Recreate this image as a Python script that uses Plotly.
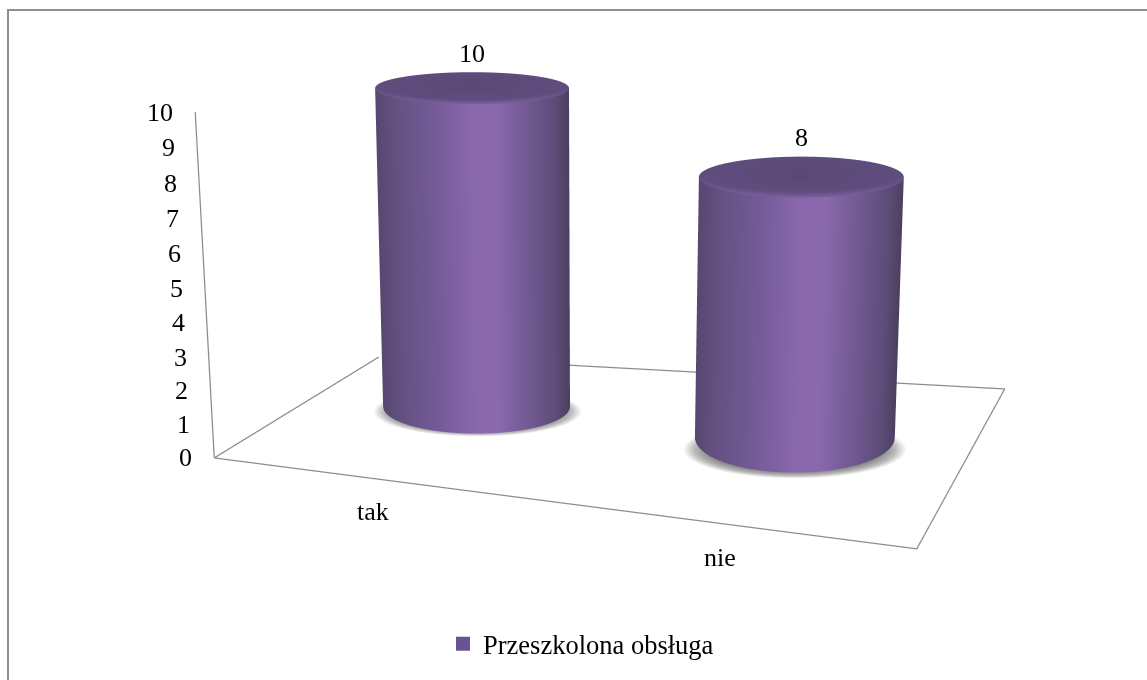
import numpy as np
import plotly.graph_objects as go

categories = ["tak", "nie"]
values = [10, 8]
z_ticks = list(range(0, 11))
series_name = "Przeszkolona obsługa"

W, H = 1147, 680
FONT = "Liberation Serif"

# --- orthographic view geometry ---
ALPHA = np.radians(17.0)
DIST = 2.0
ORTHO_CAL = 0.829                         # measured scale of the orthographic camera
K = ORTHO_CAL * 340 / (DIST * np.tan(np.pi / 8))
SX = 326.0                                # screen px per category step
SY = SX * np.sin(ALPHA)                   # screen px per depth unit
SZ = 32.0                                 # screen px per value unit
X0, V0 = 474.0, 407.0                     # screen place of category 0 on the floor, depth 0
XR = ((573.5 - X0) / SX - 1.7, (573.5 - X0) / SX + 1.7)
V_FLOOR_MID = 340 + SZ * 5
YMID = (V0 - V_FLOOR_MID) / SY
YR = (YMID - 1.5, YMID + 1.5)
ZR = (0.0, 10.0)
ASPECT = dict(x=3.4 * SX / K, y=3.0 * SX / K, z=10 * SZ / (K * np.cos(ALPHA)))

def wx(u): return (u - X0) / SX
def wy(v, z=0.0): return (V0 - SZ * z - v) / SY

# floor outline and value axis
FLOOR = [(214, 458), (917, 549), (1005, 389), (382, 355), (214, 458)]
AXIS_TOP = (195, 112)

# cylinder outline per category: base / top centre offset and radii, floor shadow
CYL = [
    dict(b=(476.5, 407, 93.5, 27), t=(472, 88, 97, 16), s=(477.5, 412, 104.5, 25)),
    dict(b=(795, 438, 100, 35), t=(801.5, 177, 102.5, 20.5), s=(795, 450, 112, 29)),
]

flat = dict(ambient=1, diffuse=0, specular=0, fresnel=0, roughness=1)
side_scale = [[0, "#584770"], [0.10, "#645182"], [0.30, "#745b98"], [0.50, "#8a68ad"], [0.62, "#8a69ad"],
              [0.80, "#6f588f"], [0.93, "#5d4c78"], [1, "#4c4060"]]
top_scale = [[0, "#5a4876"], [0.72, "#5f4d7e"], [1, "#7b60a0"]]
shadow_scale = [[0, "#5e5e5e"], [0.72, "#707070"], [0.90, "#bcbcbc"], [1, "#ffffff"]]

fig = go.Figure()
theta = np.linspace(0, 2 * np.pi, 181)
rad = np.linspace(0, 1, 24)
Rd, T2 = np.meshgrid(rad, theta)
for val, g in zip(values, CYL):
    bu, bv, brx, bry = g["b"]; tu, tv, trx, try_ = g["t"]; su, sv, srx, sry = g["s"]
    # side wall
    Xs = np.vstack([wx(bu) + brx / SX * np.cos(theta), wx(tu) + trx / SX * np.cos(theta)])
    Ys = np.vstack([wy(bv) + bry / SY * np.sin(theta), wy(tv, val) + try_ / SY * np.sin(theta)])
    Zs = np.vstack([np.zeros_like(theta), np.full_like(theta, float(val))])
    shade = (np.cos(theta) + 1) / 2
    fig.add_surface(x=Xs, y=Ys, z=Zs, surfacecolor=np.vstack([shade, shade]), colorscale=side_scale, cmin=0, cmax=1,
                    showscale=False, hoverinfo="skip", lighting=flat)
    # top face
    rim = Rd * (0.75 - 0.25 * np.sin(T2))
    fig.add_surface(x=wx(tu) + trx / SX * Rd * np.cos(T2), y=wy(tv, val) + try_ / SY * Rd * np.sin(T2),
                    z=np.full_like(Rd, float(val)), surfacecolor=rim, colorscale=top_scale, cmin=0, cmax=1,
                    showscale=False, hoverinfo="skip", lighting=flat)
    # floor shadow
    fig.add_surface(x=wx(su) + srx / SX * Rd * np.cos(T2), y=wy(sv) + sry / SY * Rd * np.sin(T2),
                    z=np.full_like(Rd, 0.01), surfacecolor=Rd, colorscale=shadow_scale, cmin=0, cmax=1,
                    showscale=False, hoverinfo="skip", lighting=flat)

fx = [wx(u) for u, v in FLOOR]; fy = [wy(v) for u, v in FLOOR]
fig.add_scatter3d(x=fx, y=fy, z=[0] * len(FLOOR), mode="lines", line=dict(color="#8c8c8c", width=2.5),
                  hoverinfo="skip", showlegend=False)
ax_x = [wx(FLOOR[0][0]), wx(AXIS_TOP[0])]
ax_y = [wy(FLOOR[0][1]), wy(AXIS_TOP[1], 10)]
fig.add_scatter3d(x=ax_x, y=ax_y, z=[0, 10], mode="lines", line=dict(color="#8c8c8c", width=2.5),
                  hoverinfo="skip", showlegend=False)
fig.add_scatter(x=[None], y=[None], mode="markers", name=series_name,
                marker=dict(symbol="square", size=14, color="#6b5292"))

txt = dict(family=FONT, size=26, color="black")
annots = [dict(x=ax_x[0] + (ax_x[1] - ax_x[0]) * t / 10, y=ax_y[0] + (ax_y[1] - ax_y[0]) * t / 10, z=t,
               text=str(t), showarrow=False, xanchor="right", xshift=-20,
               yshift=-3.5 * np.sin(np.pi * t / 10), font=txt) for t in z_ticks]
for (u, v), c_ in zip([(373, 512), (720, 558)], categories):
    annots.append(dict(x=wx(u), y=wy(v), z=0, text=c_, showarrow=False, font=txt))
for v_, g in zip(values, CYL):
    annots.append(dict(x=wx(g["t"][0]), y=wy(g["t"][1], v_), z=v_, text=str(v_), showarrow=False,
                       yshift=g["t"][3] + 19, font=txt))

frame = dict(color="#8e8e8e", width=2)
ax_off = dict(visible=False, showgrid=False, zeroline=False, showticklabels=False, showbackground=False, showspikes=False)
fig.update_layout(
    width=W, height=H, margin=dict(l=0, r=0, t=0, b=0), paper_bgcolor="white", plot_bgcolor="white",
    xaxis=dict(visible=False), yaxis=dict(visible=False),
    scene=dict(domain=dict(x=[0, 1], y=[0, 1]), bgcolor="rgba(0,0,0,0)",
               xaxis=dict(range=list(XR), **ax_off), yaxis=dict(range=list(YR), **ax_off), zaxis=dict(range=list(ZR), **ax_off),
               aspectmode="manual", aspectratio=ASPECT,
               camera=dict(eye=dict(x=0, y=-DIST * np.cos(ALPHA), z=DIST * np.sin(ALPHA)),
                           center=dict(x=0, y=0, z=0), up=dict(x=0, y=0, z=1),
                           projection=dict(type="orthographic")),
               annotations=annots),
    showlegend=True,
    legend=dict(x=443 / W, xanchor="left", y=1 - 644 / H, yanchor="middle", orientation="h",
                font=dict(family=FONT, size=26.5, color="black"), itemwidth=30, bgcolor="rgba(0,0,0,0)"),
    shapes=[dict(type="line", xref="paper", yref="paper", x0=7 / W, x1=1, y0=1 - 10 / H, y1=1 - 10 / H, line=frame),
            dict(type="line", xref="paper", yref="paper", x0=8 / W, x1=8 / W, y0=0, y1=1 - 10 / H, line=frame)],
)
fig.write_html("out.html", post_script="document.body.style.margin='0';", config=dict(displayModeBar=False))
